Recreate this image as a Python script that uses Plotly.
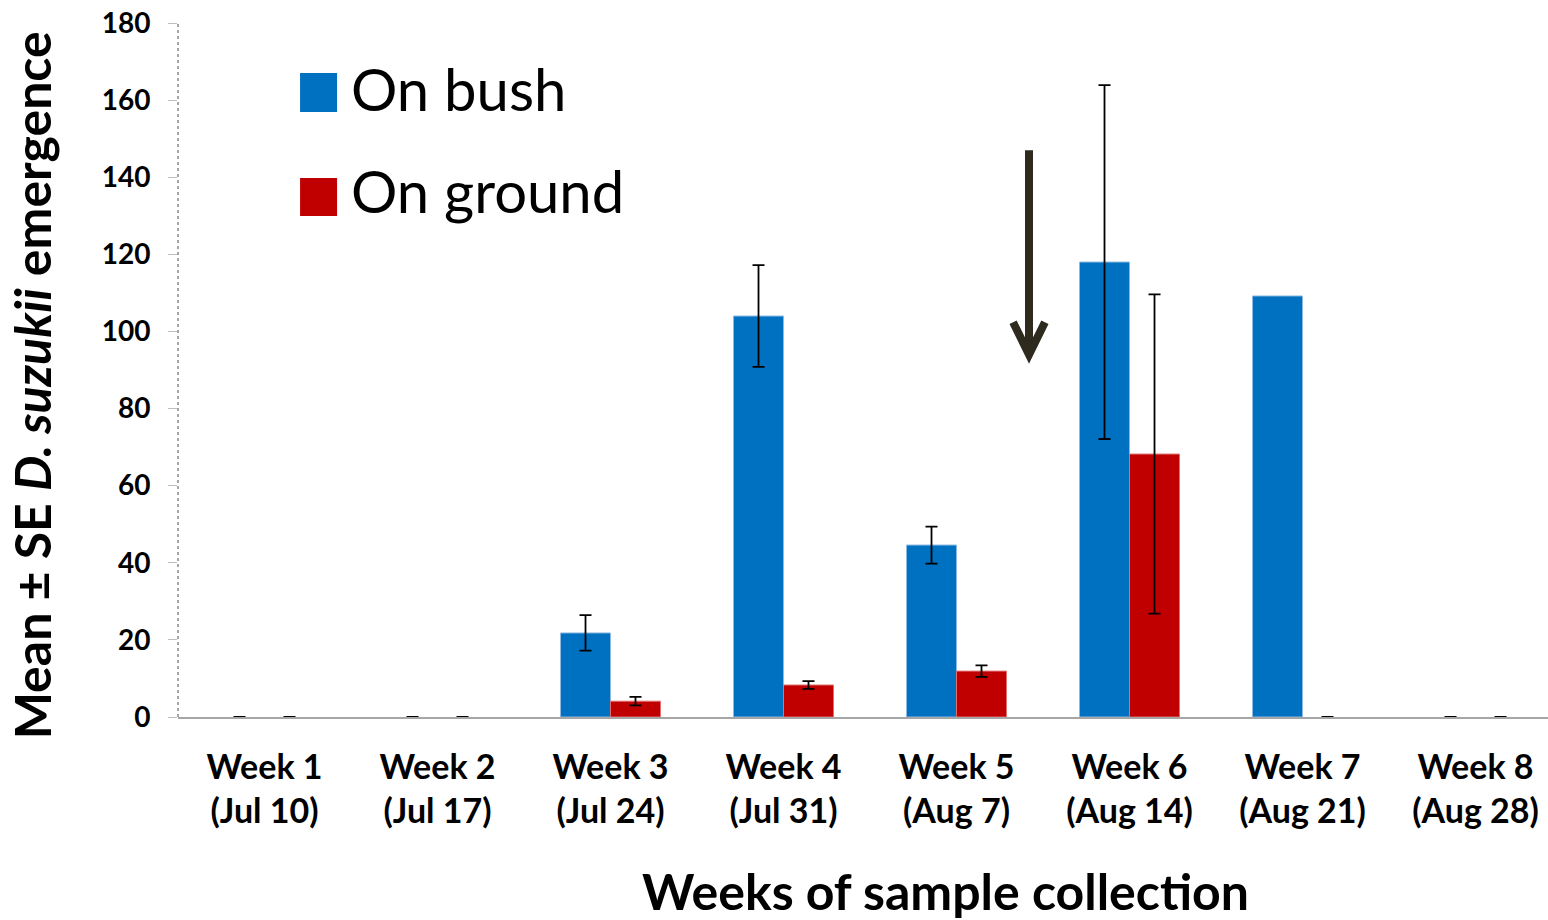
import plotly.graph_objects as go

weeks = ["Week 1<br>(Jul 10)", "Week 2<br>(Jul 17)", "Week 3<br>(Jul 24)", "Week 4<br>(Jul 31)",
         "Week 5<br>(Aug 7)", "Week 6<br>(Aug 14)", "Week 7<br>(Aug 21)", "Week 8<br>(Aug 28)"]
bush_mean = [0, 0, 21.8, 104.0, 44.6, 118.0, 109.2, 0]
bush_se = [0, 0, 4.6, 13.2, 4.8, 45.9, None, 0]
ground_mean = [0, 0, 4.1, 8.3, 11.9, 68.2, 0, 0]
ground_se = [0, 0, 1.1, 1.0, 1.5, 41.4, 0, 0]

xpos = list(range(len(weeks)))
FONT = "Lato"
BARGAP = 0.422
half = (1 - BARGAP) / 4  # offset of each bar's centre from the group centre

fig = go.Figure()
fig.add_trace(go.Bar(
    x=xpos, y=bush_mean, name="On bush",
    marker=dict(color="#0070C0", line=dict(color="#8DB9E2", width=[1 if v else 0 for v in bush_mean])),
))
fig.add_trace(go.Bar(
    x=xpos, y=ground_mean, name="On ground",
    marker=dict(color="#C00000", line=dict(color="#E07070", width=[1 if v else 0 for v in ground_mean])),
))

# error bars, placed at the centres of the grouped bars
for means, ses, sign in [(bush_mean, bush_se, -1), (ground_mean, ground_se, 1)]:
    xs = [i + sign * half for i, s in zip(xpos, ses) if s is not None]
    ys = [m for m, s in zip(means, ses) if s is not None]
    es = [s for s in ses if s is not None]
    fig.add_trace(go.Scatter(
        x=xs, y=ys, mode="markers", marker=dict(size=1, opacity=0), hoverinfo="skip",
        error_y=dict(type="data", array=es, visible=True, color="black", thickness=1.8, width=6),
        showlegend=False,
    ))

arrow_color = "#2F2A1E"
shapes = [
    dict(type="line", xref="paper", yref="y", x0=0, x1=0, y0=0, y1=180,
         line=dict(color="#A6A6A6", width=2, dash="dot")),
    dict(type="line", xref="x", yref="y", x0=4.419, x1=4.419, y0=147, y1=95,
         line=dict(color=arrow_color, width=8)),
    dict(type="path", xref="x", yref="y",
         path="M 4.327,102.4 L 4.419,94.0 L 4.511,102.4",
         line=dict(color=arrow_color, width=8)),
    dict(type="rect", xref="paper", yref="paper", x0=0.0891, x1=0.1161, y0=0.8718, y1=0.9280,
         fillcolor="#0070C0", line=dict(width=0)),
    dict(type="rect", xref="paper", yref="paper", x0=0.0891, x1=0.1161, y0=0.7219, y1=0.7767,
         fillcolor="#C00000", line=dict(width=0)),
]

annotations = [
    dict(text="On bush", xref="paper", yref="paper", x=0.1248, y=0.905, xanchor="left",
         yanchor="middle", showarrow=False, font=dict(family=FONT, size=58, color="black")),
    dict(text="On ground", xref="paper", yref="paper", x=0.1248, y=0.759, xanchor="left",
         yanchor="middle", showarrow=False, font=dict(family=FONT, size=58, color="black")),
    dict(text="<b>Weeks of sample collection</b>", xref="paper", yref="paper", x=0.56, y=-0.251,
         xanchor="center", yanchor="middle", showarrow=False,
         font=dict(family=FONT, size=50, color="black")),
    dict(text="<b>Mean ± SE <i>D. suzukii</i> emergence</b>", xref="paper", yref="paper",
         x=-0.1065, y=0.478, xanchor="center", yanchor="middle", textangle=-90, showarrow=False,
         font=dict(family=FONT, size=50, color="black")),
]

fig.update_layout(
    width=1548, height=920,
    margin=dict(l=178, r=0, t=23, b=203),
    paper_bgcolor="white", plot_bgcolor="white",
    barmode="group", bargap=BARGAP, bargroupgap=0,
    showlegend=False,
    shapes=shapes, annotations=annotations,
    font=dict(family=FONT, color="black"),
)
fig.update_xaxes(
    range=[-0.5, 7.419], tickvals=xpos, ticktext=[f"<b>{w}</b>" for w in weeks],
    showline=True, linecolor="#A6A6A6", linewidth=2, ticks="", showgrid=False, zeroline=False,
    tickfont=dict(family=FONT, size=34, color="black"), ticklabelstandoff=19,
)
fig.update_yaxes(
    range=[0, 180], dtick=20, showline=False, showgrid=False, zeroline=False,
    ticks="outside", ticklen=9, tickcolor="#BFBFBF", tickwidth=1,
    tickfont=dict(family=FONT, size=28, color="black"), ticklabelstandoff=12,
    tickprefix="<b>", ticksuffix="</b>",
)

fig.write_html("out.html", config={"displayModeBar": False},
               post_script="document.body.style.margin='0px';")
